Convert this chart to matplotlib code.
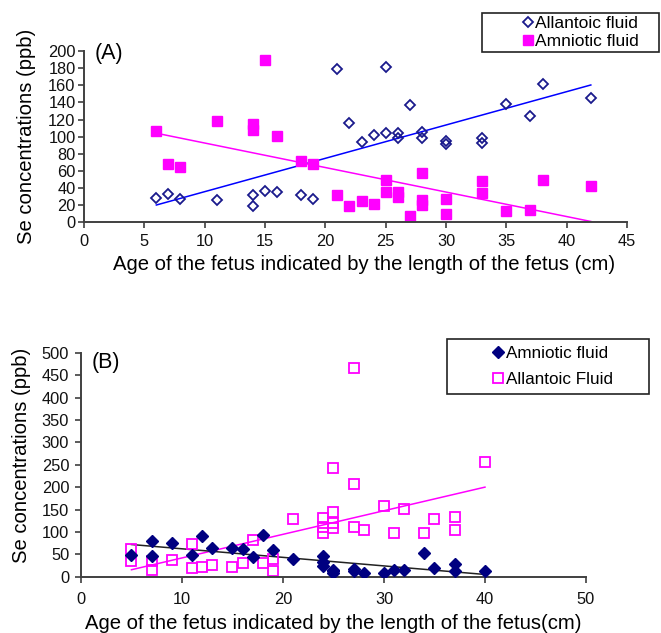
import numpy as np
import matplotlib
matplotlib.use("Agg")
import matplotlib.pyplot as plt

plt.rcParams['font.family'] = ['Liberation Sans', 'DejaVu Sans']

# panel A: allantoic fluid (open diamonds)
a_allan_x = [6, 7, 8, 11, 14, 14, 15, 16, 18, 19, 21, 22, 23, 24, 25, 25, 26, 26, 27,
             28, 28, 30, 30, 33, 33, 35, 37, 38, 42]
a_allan_y = [29, 33.5, 27, 26, 32, 19, 36.5, 36, 32, 27, 179, 116, 94, 102, 181, 104, 104, 98,
             136.5, 106, 98, 95, 91.5, 98, 93, 138, 124, 161, 145]
# panel A: amniotic fluid (filled squares)
a_amnio_x = [6, 7, 8, 11, 14, 14, 15, 16, 18, 19, 21, 22, 23, 24, 25, 25, 26, 26, 27,
             28, 28, 28, 30, 30, 33, 33, 35, 37, 38, 42]
a_amnio_y = [107, 68, 65, 118, 115, 108, 190, 101, 72, 68.5, 32, 19.6, 24.6, 22, 50, 35, 35, 30,
             7, 58, 26, 20, 27, 10, 48, 34, 13.5, 14, 50, 43]

# panel B: amniotic fluid (filled diamonds)
b_amnio_x = [5, 7, 7, 9, 11, 12, 13, 15, 16, 17, 18, 19, 21, 24, 24, 24, 25, 25, 25,
             27, 27, 28, 30, 31, 32, 34, 35, 37, 37, 40]
b_amnio_y = [48, 80, 46, 76, 48, 91, 63, 63, 62, 45, 94, 59, 40, 46, 33, 24, 16, 12, 8,
             18, 12, 9, 8, 14, 14, 53, 19, 28, 12, 13]
# panel B: allantoic fluid (open squares)
b_allan_x = [5, 5, 7, 7, 9, 11, 11, 12, 13, 15, 16, 17, 18, 19, 19, 21, 24, 24, 24,
             25, 25, 25, 25, 27, 27, 27, 28, 30, 31, 32, 34, 35, 37, 37, 40]
b_allan_y = [61, 34, 35, 15, 37, 73, 19, 22, 26, 22, 30, 83, 30, 39, 12, 129, 130, 112, 97,
             242, 145, 119, 108, 466, 207, 112, 104, 158, 98, 152, 97, 129, 134, 104, 257]

fig = plt.figure(figsize=(6.61, 6.33), dpi=100)
axA = fig.add_axes([0.127, 0.6485, 0.8216, 0.271])
axB = fig.add_axes([0.1225, 0.0889, 0.764, 0.3539])

spine_col = '#404040'
for ax in (axA, axB):
    for s in ('top', 'right'):
        ax.spines[s].set_visible(False)
    for s in ('left', 'bottom'):
        ax.spines[s].set_color(spine_col)
        ax.spines[s].set_linewidth(1.4)
    ax.tick_params(direction='out', length=4, width=1.2, color=spine_col,
                   labelsize=11.8, labelcolor='#111111', pad=2)
axA.tick_params(axis='x', pad=4.5)
axB.tick_params(axis='x', pad=7)
axB.tick_params(axis='y', pad=4.5)


def trend(ax, x, y, col):
    k, b = np.polyfit(x, y, 1)
    xx = np.array([min(x), max(x)])
    ax.plot(xx, k * xx + b, color=col, lw=1.1, zorder=1)


# (A)
axA.plot(a_allan_x, a_allan_y, 'D', ms=5, mfc='none', mec='#1a1a8c', mew=1.3,
         label='Allantoic fluid', zorder=3)
axA.plot(a_amnio_x, a_amnio_y, 's', ms=6.8, color='#ff00ff', mec='#ff00ff',
         label='Amniotic fluid', zorder=2)
trend(axA, a_allan_x, a_allan_y, '#0000ff')
trend(axA, a_amnio_x, a_amnio_y, '#ff00ff')
axA.set_xlim(0, 45)
axA.set_ylim(0, 200)
axA.set_xticks(range(0, 46, 5))
axA.set_yticks(range(0, 201, 20))
axA.set_xlabel('Age of the fetus indicated by the length of the fetus (cm)', fontsize=14.6, labelpad=4)
axA.xaxis.label.set_x(0.515)
axA.set_ylabel('Se concentrations (ppb)', fontsize=14.6, labelpad=8.5)
axA.text(0.02, 0.985, '(A)', transform=axA.transAxes, fontsize=15.5, va='center', ha='left')
legA = axA.legend(loc='upper left', bbox_to_anchor=(0.7292, 0.9795, 0.2678, 0.0),
                  bbox_transform=fig.transFigure, mode='expand', borderaxespad=0,
                  fontsize=12.5, handlelength=4.95, handletextpad=-2.07, labelspacing=0.2,
                  borderpad=0.15, fancybox=False, edgecolor='#222222', framealpha=1)
legA.get_frame().set_linewidth(1.2)

# (B)
axB.plot(b_amnio_x, b_amnio_y, 'D', ms=6, color='#000080', mec='#000080',
         label='Amniotic fluid', zorder=3)
axB.plot(b_allan_x, b_allan_y, 's', ms=7, mfc='none', mec='#ff00ff', mew=1.3,
         label='Allantoic Fluid', zorder=2)
trend(axB, b_allan_x, b_allan_y, '#ff00ff')
trend(axB, b_amnio_x, b_amnio_y, '#222222')
axB.set_xlim(0, 50)
axB.set_ylim(0, 500)
axB.set_xticks(range(0, 51, 10))
axB.set_yticks(range(0, 501, 50))
axB.set_xlabel('Age of the fetus indicated by the length of the fetus(cm)', fontsize=14.6, labelpad=5)
axB.set_ylabel('Se concentrations (ppb)', fontsize=14.6, labelpad=8)
axB.yaxis.label.set_y(0.541)
axB.text(0.022, 0.958, '(B)', transform=axB.transAxes, fontsize=15.5, va='center', ha='left')
legB = axB.legend(loc='upper left', bbox_to_anchor=(0.6762, 1 - 339 / 633, 0.3056, 0.0),
                  bbox_transform=fig.transFigure, mode='expand', borderaxespad=0,
                  fontsize=12.3, handlelength=5.2, handletextpad=-2.12, labelspacing=0.66,
                  borderpad=0.39, fancybox=False, edgecolor='#222222', framealpha=1)
legB.get_frame().set_linewidth(1.2)

fig.savefig('out.png', dpi=100)
